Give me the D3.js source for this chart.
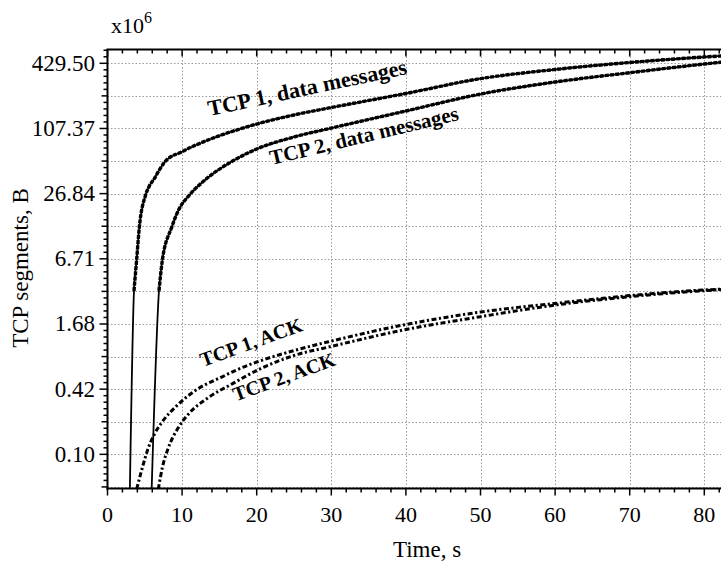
<!DOCTYPE html>
<html>
<head>
<meta charset="utf-8">
<script src="https://cdn.jsdelivr.net/npm/d3@7"></script>
<style>
  body { margin: 0; background: #fff; }
  svg { display: block; font-family: "Liberation Serif", "DejaVu Serif", serif; }
</style>
</head>
<body>
<svg width="721" height="563"></svg>
<script>
// time (s) and volume (x10^6 B)
var tcp1Data = [[3.0, 0.05], [3.55, 3.4], [3.9, 6.5], [4.26, 13], [5.1, 26], [5.6, 31.5], [6.3, 37.2], [7, 45], [7.7, 52.9],
  [10, 65.5], [14, 86.8], [17.5, 105], [20, 118], [25, 143.1], [30, 167.6], [40, 226], [50, 310], [60, 376.5], [70, 436.9], [80, 491.1], [82.6, 503.8]];
var tcp2Data = [[5.92, 0.05], [6.9, 3.4], [7.35, 6.5], [8.6, 13.1], [9.5, 18.8], [11.06, 26.4], [13.07, 35.9],
  [16.6, 52.9], [20, 69.4], [25, 89.6], [30, 108.3], [40, 155.7], [50, 223.3], [60, 288.5], [70, 351.6], [80, 423], [82.6, 442]];
var tcp1Ack = [[3.91, 0.05], [4.67, 0.079], [5.47, 0.12], [6.27, 0.16], [7.35, 0.21], [9.27, 0.294], [11.73, 0.406],
  [15.3, 0.543], [18.9, 0.701], [20, 0.747], [25, 0.953], [30, 1.166], [40, 1.66], [50, 2.163], [60, 2.6], [70, 3.07], [80, 3.46], [82.6, 3.53]];
var tcp2Ack = [[6.81, 0.05], [7.35, 0.079], [8.15, 0.12], [9.49, 0.185], [10.83, 0.246], [13.5, 0.35], [16.65, 0.467],
  [20.7, 0.658], [25, 0.858], [30, 1.041], [40, 1.492], [50, 1.96], [60, 2.508], [70, 3.0], [80, 3.41], [82.6, 3.5]];

var xTicks = [0, 10, 20, 30, 40, 50, 60, 70, 80];
var yTickExp = [20, 22, 24, 26, 28, 30, 32];   // labelled ticks are 2^k / 1e7
var yTickLabels = ["0.10", "0.42", "1.68", "6.71", "26.84", "107.37", "429.50"];

var labels = [
  {text: "TCP 1, data messages", x: 13.67, y: 140, angle: -12, size: 22},
  {text: "TCP 2, data messages", x: 21.98, y: 49.4, angle: -13.5, size: 21},
  {text: "TCP 1, ACK", x: 12.8, y: 0.672, angle: -20, size: 20},
  {text: "TCP 2, ACK", x: 17.2, y: 0.322, angle: -20, size: 20}
];

var svg = d3.select("svg");
var pL = 107.5, pT = 49.5, pB = 488.5;

var x = d3.scaleLinear().domain([0, 80]).range([pL, 704.3]);
var xMax = 82.7;
var pR = x(xMax);
var y = d3.scaleLog().base(2).domain([0.0507, 576]).range([pB, pT]);
var v = function (k) { return Math.pow(2, k) / 1e7; };

svg.append("clipPath").attr("id", "clip")
  .append("rect").attr("x", pL).attr("y", pT).attr("width", pR - pL).attr("height", pB - pT);

// grid
var grid = svg.append("g").attr("stroke", "#999").attr("stroke-width", 1).attr("stroke-dasharray", "1.5,2");
grid.selectAll("line.h").data(d3.range(19, 33)).enter().append("line")
  .attr("x1", pL).attr("x2", pR)
  .attr("y1", function (k) { return Math.round(y(v(k))) + 0.5; })
  .attr("y2", function (k) { return Math.round(y(v(k))) + 0.5; });
grid.selectAll("line.v").data(xTicks.slice(1)).enter().append("line")
  .attr("y1", pT).attr("y2", pB)
  .attr("x1", function (d) { return Math.round(x(d)) + 0.5; })
  .attr("x2", function (d) { return Math.round(x(d)) + 0.5; });

// curves
var line = d3.line()
  .x(function (d) { return x(d[0]); })
  .y(function (d) { return y(d[1]); })
  .curve(d3.curveMonotoneX);
var plot = svg.append("g").attr("clip-path", "url(#clip)").attr("fill", "none").attr("stroke", "#000");

[tcp1Data, tcp2Data].forEach(function (s) {
  plot.append("path").attr("d", line(s)).attr("stroke-width", 1.8);
  plot.append("path").attr("d", line(s.filter(function (d) { return d[1] >= 3; })))
    .attr("stroke-width", 3.4).attr("stroke-dasharray", "4,1.2");
});
[tcp1Ack, tcp2Ack].forEach(function (s) {
  plot.append("path").attr("d", line(s)).attr("stroke-width", 3)
    .attr("stroke-dasharray", "5,2.5,2.2,2.5");
});

// axes frame
var ax = svg.append("g").attr("stroke", "#000");
ax.append("line").attr("x1", pL).attr("x2", pL).attr("y1", pT).attr("y2", pB + 1).attr("stroke-width", 2);
ax.append("line").attr("x1", pL - 1).attr("x2", 721).attr("y1", pB).attr("y2", pB).attr("stroke-width", 2);
ax.append("line").attr("x1", pL - 1).attr("x2", 721).attr("y1", pT).attr("y2", pT).attr("stroke-width", 2);

// x ticks, bottom (outward) and top (inward)
var xMinor = d3.range(0, xMax, 2);
ax.selectAll("line.xb").data(xMinor).enter().append("line")
  .attr("stroke-width", 1.5)
  .attr("x1", function (d) { return x(d); }).attr("x2", function (d) { return x(d); })
  .attr("y1", pB).attr("y2", function (d) { return pB + (d % 10 === 0 ? 7 : 4); });
ax.selectAll("line.xt").data(xMinor).enter().append("line")
  .attr("stroke-width", 1.5)
  .attr("x1", function (d) { return x(d); }).attr("x2", function (d) { return x(d); })
  .attr("y1", pT).attr("y2", function (d) { return pT + (d % 10 === 0 ? 7 : 4); });

// y ticks (outward)
var yMinor = d3.range(19, 32.5, 0.2);
ax.selectAll("line.yl").data(yMinor).enter().append("line")
  .attr("stroke-width", 1.5)
  .attr("y1", function (k) { return y(v(k)); }).attr("y2", function (k) { return y(v(k)); })
  .attr("x1", pL)
  .attr("x2", function (k) {
    var r = Math.round(k * 10) / 10;
    if (r % 2 === 0) return pL - 8;
    if (r % 1 === 0) return pL - 6;
    return pL - 4;
  });

// tick labels
svg.selectAll("text.xl").data(xTicks).enter().append("text")
  .attr("x", function (d) { return x(d); }).attr("y", 522)
  .attr("text-anchor", "middle").attr("font-size", 22).text(function (d) { return d; });
svg.selectAll("text.yl").data(yTickExp).enter().append("text")
  .attr("x", 95).attr("y", function (k) { return y(v(k)) + 7.5; })
  .attr("text-anchor", "end").attr("font-size", 23)
  .text(function (k, i) { return yTickLabels[i]; });

// axis titles
svg.append("text").attr("x", 427).attr("y", 557).attr("text-anchor", "middle")
  .attr("font-size", 23).text("Time, s");
svg.append("text").attr("transform", "translate(28,268) rotate(-90)").attr("text-anchor", "middle")
  .attr("font-size", 23).text("TCP segments, B");
var mult = svg.append("text").attr("x", 111).attr("y", 33).attr("font-size", 22);
mult.append("tspan").text("x10");
mult.append("tspan").attr("dy", -10).attr("font-size", 16).text("6");

// curve labels, anchored at time / value of their left baseline corner
svg.selectAll("text.cl").data(labels).enter().append("text")
  .attr("transform", function (d) {
    return "translate(" + x(d.x) + "," + y(d.y) + ") rotate(" + d.angle + ")";
  })
  .attr("font-weight", "bold").attr("font-size", function (d) { return d.size; })
  .text(function (d) { return d.text; });
</script>
</body>
</html>
